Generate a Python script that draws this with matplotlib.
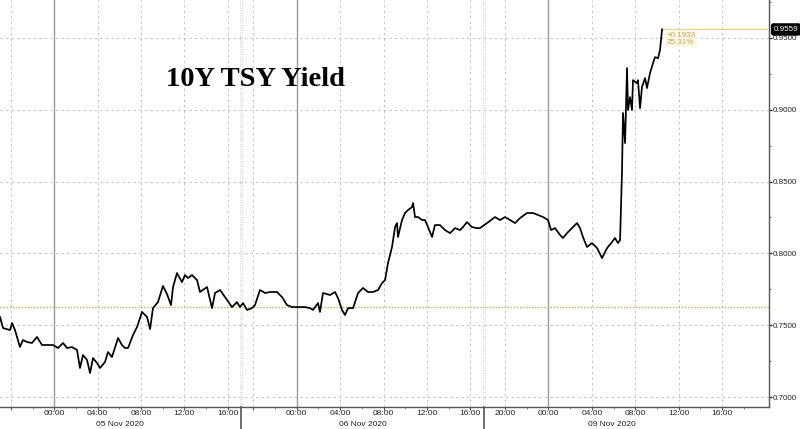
import numpy as np
import matplotlib
matplotlib.use("Agg")
import matplotlib.pyplot as plt
import matplotlib.transforms as mtransforms

# ---------------- data ----------------
# time in hours since 05 Nov 2020 00:00 (chart local time)
hours = [-5.00, -4.72, -4.08, -3.89, -3.62, -3.16, -2.88, -2.51, -2.05, -1.59,
         -1.13, -0.67, -0.11, 0.35, 0.81, 1.18, 1.64, 2.10, 2.37, 2.65,
         3.02, 3.30, 3.57, 3.94, 4.22, 4.68, 4.95, 5.32, 5.88, 6.24,
         6.52, 6.80, 7.26, 7.63, 8.09, 8.55, 8.83, 9.10, 9.56, 10.02,
         10.39, 10.76, 10.95, 11.31, 11.77, 12.05, 12.33, 12.70, 13.16, 13.43,
         14.08, 14.54, 14.82, 15.28, 15.74, 16.38, 16.84, 17.12,
         19.05, 19.42, 19.88, 20.15, 20.61, 21.08, 21.54, 22.18, 22.64, 23.10,
         23.56, 24.12, 24.76, 25.22, 25.50, 25.96, 26.14, 26.42, 27.07, 27.53,
         27.80, 28.17, 28.45, 28.73, 29.19, 29.65, 30.11, 30.57, 31.03, 31.49,
         31.86, 32.14, 32.41, 32.78, 33.06, 33.24, 33.33, 33.70, 33.98, 34.26,
         34.62, 34.72, 34.90, 35.18, 35.55, 35.82, 36.10, 36.47, 36.74, 37.20,
         37.67, 38.13, 38.59, 39.05, 39.32, 39.69, 40.15, 40.61, 40.89,
         90.34, 91.07, 91.54, 92.00, 92.46, 92.92, 93.38, 94.02, 94.58, 95.04,
         95.50, 95.96, 96.24, 96.60, 97.07, 97.34, 97.71, 98.17, 98.63, 98.91,
         99.18, 99.55, 100.01, 100.48, 100.94, 101.40, 101.86, 102.13, 102.41, 102.60,
         102.78, 102.87, 103.06, 103.24, 103.33, 103.52, 103.70, 103.79, 104.16, 104.25,
         104.44, 104.62, 104.90, 105.08, 105.36, 105.64, 105.82, 106.10, 106.28, 106.47]

yields = [0.7557, 0.7480, 0.7466, 0.7515, 0.7466, 0.7348, 0.7397, 0.7383, 0.7376, 0.7418,
          0.7362, 0.7362, 0.7362, 0.7341, 0.7376, 0.7341, 0.7348, 0.7327, 0.7202, 0.7292,
          0.7258, 0.7167, 0.7271, 0.7237, 0.7202, 0.7244, 0.7313, 0.7278, 0.7411, 0.7362,
          0.7341, 0.7341, 0.7432, 0.7487, 0.7592, 0.7557, 0.7473, 0.7619, 0.7661, 0.7773,
          0.7717, 0.7640, 0.7766, 0.7863, 0.7800, 0.7849, 0.7828, 0.7849, 0.7814, 0.7731,
          0.7766, 0.7619, 0.7724, 0.7745, 0.7696, 0.7626, 0.7661, 0.7626,
          0.7654, 0.7606, 0.7619, 0.7640, 0.7745, 0.7724, 0.7731, 0.7731, 0.7696, 0.7640,
          0.7626, 0.7626, 0.7626, 0.7619, 0.7606, 0.7654, 0.7592, 0.7724, 0.7710, 0.7731,
          0.7689, 0.7606, 0.7571, 0.7619, 0.7619, 0.7724, 0.7759, 0.7731, 0.7731, 0.7745,
          0.7793, 0.7814, 0.7933, 0.8044, 0.8183, 0.8211, 0.8114, 0.8232, 0.8281, 0.8302,
          0.8322, 0.8350, 0.8253, 0.8253, 0.8232, 0.8232, 0.8183, 0.8114, 0.8197, 0.8197,
          0.8162, 0.8141, 0.8176, 0.8162, 0.8183, 0.8218, 0.8183, 0.8176, 0.8176,
          0.8211, 0.8253, 0.8232, 0.8253, 0.8232, 0.8211, 0.8246, 0.8281, 0.8281, 0.8267,
          0.8253, 0.8232, 0.8162, 0.8176, 0.8128, 0.8107, 0.8141, 0.8176, 0.8211, 0.8176,
          0.8114, 0.8044, 0.8072, 0.8037, 0.7967, 0.8037, 0.8079, 0.8107, 0.8072, 0.8093,
          0.8580, 0.8977, 0.8768, 0.9290, 0.8998, 0.9088, 0.8998, 0.9206, 0.9185, 0.9206,
          0.9011, 0.9158, 0.9220, 0.9151, 0.9255, 0.9325, 0.9366, 0.9359, 0.9415, 0.9559]

prev_close = 0.7627
last_value = 0.9559
change_text = "+0.1933"
change_pct_text = "25.31%"

# non-trading gaps removed from the time axis (hours since 05 Nov 00:00)
session_gaps = [(17.2, 18.85), (41.25, 90.05)]

tick_hours = [-4, 0, 4, 8, 12, 16, 20, 24, 28, 32, 36, 40, 92, 96, 100, 104, 108, 112]
tick_labels = ["", "00:00", "04:00", "08:00", "12:00", "16:00", "",
               "00:00", "04:00", "08:00", "12:00", "16:00", "20:00",
               "00:00", "04:00", "08:00", "12:00", "16:00"]
midnight_hours = [0, 24, 96]
minor_hours = [-2, 2, 6, 10, 14, 22, 26, 30, 34, 38, 94, 98, 102, 106, 110, 114]
date_labels = ["05 Nov 2020", "06 Nov 2020", "09 Nov 2020"]
date_label_hours = [6.1, 30.05, 101.8]

y_ticks = [0.70, 0.75, 0.80, 0.85, 0.90, 0.95]
y_minor = [0.725, 0.775, 0.825, 0.875, 0.925, 0.975]
title = "10Y TSY Yield"


def to_axis(h):
    h = np.asarray(h, dtype=float)
    out = h + 5.0
    for a, b in session_gaps:
        out = out - np.clip(h - a, 0, b - a)
    return out


# ---------------- figure ----------------
W, H = 800, 429
fig = plt.figure(figsize=(W / 100, H / 100), dpi=100)
ax = fig.add_axes([0, 1 - 407 / H, 769 / W, 407 / H])

xmax = 769 / 10.85
ax.set_xlim(0, xmax)
ax.set_ylim(0.69304, 0.9764)

grid_col = "#c4c4c4"
# horizontal grid
for yv in y_ticks:
    ax.axhline(yv, color=grid_col, lw=0.8, ls=(0, (2, 3)), zorder=1)
# vertical grid
for th in tick_hours:
    if th in midnight_hours:
        ax.axvline(to_axis(th), color="#9a9a9a", lw=1.0, zorder=1)
    else:
        ax.axvline(to_axis(th), color=grid_col, lw=0.8, ls=(0, (2, 3)), zorder=1)

# session boundaries
blend = mtransforms.blended_transform_factory(ax.transData, ax.transAxes)
for a, b in session_gaps:
    xb = float(to_axis(a))
    for dx in (-0.06, 0.06):
        ax.axvline(xb + dx, color="#cfcfcf", lw=0.7, ls=(0, (1, 1.5)), zorder=1)
    ax.plot([xb, xb], [0, -0.055], transform=blend, color="#555555", lw=1.2,
            clip_on=False, zorder=5)

# previous close reference
ax.axhline(prev_close, color="#bdb45a", lw=1.0, ls=(0, (1, 1.2)), zorder=2)

# series
xs = to_axis(hours)
ax.plot(xs, yields, color="black", lw=1.25, zorder=4)

# last value line
ax.hlines(last_value, xs[-1], xmax, color="#e2d59a", lw=1.0, zorder=3)
ax.text(xs[-1] + 0.4, last_value - 0.0015, change_text + "\n" + change_pct_text,
        ha="left", va="top", fontsize=5.8, color="#c4a65a",
        family="Liberation Sans", linespacing=1.1,
        bbox=dict(facecolor="#fcf8e6", edgecolor="none", pad=1.0), zorder=3)

# axes styling
for s in ["top", "left"]:
    ax.spines[s].set_visible(False)
ax.spines["right"].set_color("#555555")
ax.spines["bottom"].set_color("#555555")
ax.spines["right"].set_linewidth(1.0)
ax.spines["bottom"].set_linewidth(1.0)

ax.yaxis.tick_right()
ax.set_yticks(y_ticks)
ax.set_yticklabels([f"{v:.4f}" for v in y_ticks])
ax.set_yticks(y_minor, minor=True)
ax.tick_params(axis="y", which="major", direction="out", length=2.5, width=1,
               color="#333333", labelsize=5.8, labelcolor="#222222", pad=0.5)
ax.tick_params(axis="y", which="minor", direction="out", length=1.5, width=0.8,
               color="#666666")

ax.set_xticks(to_axis(tick_hours))
ax.set_xticklabels(tick_labels)
ax.set_xticks(to_axis(minor_hours), minor=True)
ax.tick_params(axis="x", which="major", direction="out", length=2, width=0.8,
               color="#555555", labelsize=6.0, labelcolor="#222222", pad=0.3)
ax.tick_params(axis="x", which="minor", direction="out", length=1.5, width=0.6,
               color="#777777")
for lab in ax.get_xticklabels() + ax.get_yticklabels():
    lab.set_family("Liberation Sans")

# date labels
for lbl, dh in zip(date_labels, date_label_hours):
    ax.text(float(to_axis(dh)), -0.042, lbl, transform=blend, ha="center", va="center",
            fontsize=6.0, color="#222222", family="Liberation Sans")

# last value tag
yblend = mtransforms.blended_transform_factory(ax.transAxes, ax.transData)
ax.text(1.006, last_value, f"{last_value:.4f}", transform=yblend, ha="left",
        va="center", fontsize=5.8, color="white", family="Liberation Sans",
        bbox=dict(boxstyle="round,pad=0.25", facecolor="black", edgecolor="black"),
        zorder=10, clip_on=False)

# title
fig.text(256 / W, 1 - 80 / H, title, ha="center", va="center", fontsize=20.5,
         fontweight="bold", family="Liberation Serif", color="black")

fig.savefig("out.png", dpi=100, facecolor="white")
